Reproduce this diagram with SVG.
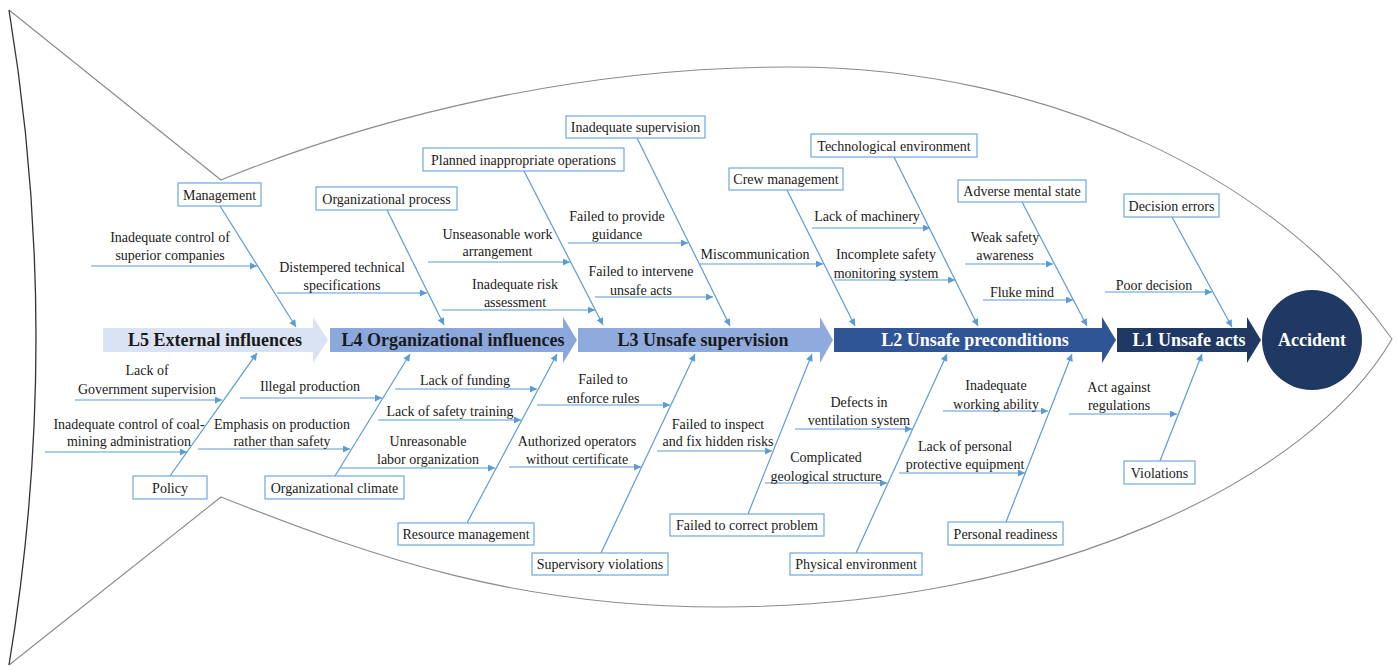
<svg xmlns="http://www.w3.org/2000/svg" width="1397" height="666" viewBox="0 0 1397 666" font-family="'Liberation Serif', 'Times New Roman', serif">
  <defs>
    <style>
      .outline { fill: none; stroke: #8a8a8a; stroke-width: 1.1; }
      .tail { fill: none; stroke: #333; stroke-width: 1.3; }
      .rib { stroke: #5b9bd5; stroke-width: 1.2; fill: none; marker-end: url(#ah); }
      .box { fill: #fff; stroke: #6fa8dc; stroke-width: 1.2; }
      text { font-family: "Liberation Serif", "Times New Roman", serif; fill: #1a1a1a; }
      .lbl { font-size: 14px; text-anchor: middle; }
      .lvl { font-size: 18px; font-weight: bold; text-anchor: middle; }
      .lvl.w { fill: #fff; }
    </style>
    <marker id="ah" viewBox="0 0 10 10" refX="10" refY="5" markerWidth="9" markerHeight="7" markerUnits="userSpaceOnUse" orient="auto">
      <path d="M0,0 L10,5 L0,10 z" fill="#5b9bd5"/>
    </marker>
  </defs>
  <rect width="1397" height="666" fill="#fff"/>

  <!-- fish body -->
  <g id="fish">
    <path class="outline" d="M9,10 L221,180 C380,115 580,67 790,67 C1050,67 1280,180 1392,339 C1310,480 1050,607 720,607 C520,607 380,560 221,497 L9,665"/>
    <path class="tail" d="M9,10 Q63,338 9,665"/>
  </g>

  <!-- spine: the five levels and the head -->
  <g id="spine">
    <g id="L5">
      <polygon points="103,328 313,328 313,317 328,340 313,363 313,352 103,352" fill="#dae3f3"/>
      <text class="lvl" x="215" y="346">L5 External influences</text>
    </g>
    <g id="L4">
      <polygon points="330,328 563,328 563,317 577,340 563,363 563,352 330,352" fill="#8aa8dc"/>
      <text class="lvl" x="453" y="346">L4 Organizational influences</text>
    </g>
    <g id="L3">
      <polygon points="578,328 820,328 820,317 833,340 820,363 820,352 578,352" fill="#8faadc"/>
      <text class="lvl" x="703" y="346">L3 Unsafe supervision</text>
    </g>
    <g id="L2">
      <polygon points="834,328 1102,328 1102,317 1116,340 1102,363 1102,352 834,352" fill="#2f5597"/>
      <text class="lvl w" x="975" y="346">L2 Unsafe preconditions</text>
    </g>
    <g id="L1">
      <polygon points="1117,328 1247,328 1247,317 1261,340 1247,363 1247,352 1117,352" fill="#203864"/>
      <text class="lvl w" x="1189" y="346">L1 Unsafe acts</text>
    </g>
    <g id="accident">
      <circle cx="1312" cy="340" r="50" fill="#1f3864"/>
      <text class="lvl w" x="1312" y="346">Accident</text>
    </g>
  </g>

  <!-- connectors: main bones and ribs -->
  <g id="connectors">
    <!-- upper bones -->
    <line class="rib" x1="220" y1="206" x2="296" y2="327"/>
    <line class="rib" x1="387" y1="210" x2="444" y2="325"/>
    <line class="rib" x1="524" y1="171" x2="603" y2="325"/>
    <line class="rib" x1="637" y1="138" x2="730" y2="326"/>
    <line class="rib" x1="787" y1="190" x2="855" y2="326"/>
    <line class="rib" x1="894" y1="157" x2="978" y2="326"/>
    <line class="rib" x1="1022" y1="202" x2="1087" y2="326"/>
    <line class="rib" x1="1172" y1="217" x2="1232" y2="327"/>
    <!-- lower bones -->
    <line class="rib" x1="170" y1="476" x2="257" y2="353"/>
    <line class="rib" x1="335" y1="476" x2="410" y2="354"/>
    <line class="rib" x1="467" y1="523" x2="557" y2="354"/>
    <line class="rib" x1="601" y1="553" x2="695" y2="354"/>
    <line class="rib" x1="748" y1="514" x2="812" y2="354"/>
    <line class="rib" x1="856" y1="553" x2="947" y2="354"/>
    <line class="rib" x1="1006" y1="522" x2="1072" y2="354"/>
    <line class="rib" x1="1160" y1="461" x2="1202" y2="354"/>
    <!-- upper ribs -->
    <line class="rib" x1="91" y1="266" x2="257" y2="266"/>
    <line class="rib" x1="277" y1="293" x2="427" y2="293"/>
    <line class="rib" x1="428" y1="262" x2="570" y2="262"/>
    <line class="rib" x1="442" y1="310" x2="595" y2="310"/>
    <line class="rib" x1="568" y1="243" x2="688" y2="243"/>
    <line class="rib" x1="595" y1="297" x2="713" y2="297"/>
    <line class="rib" x1="700" y1="264" x2="823" y2="264"/>
    <line class="rib" x1="812" y1="228" x2="930" y2="228"/>
    <line class="rib" x1="835" y1="280" x2="955" y2="280"/>
    <line class="rib" x1="965" y1="264" x2="1053" y2="264"/>
    <line class="rib" x1="983" y1="300" x2="1073" y2="300"/>
    <line class="rib" x1="1105" y1="292" x2="1212" y2="292"/>
    <!-- lower ribs -->
    <line class="rib" x1="75" y1="400" x2="222" y2="400"/>
    <line class="rib" x1="45" y1="452" x2="187" y2="452"/>
    <line class="rib" x1="240" y1="398" x2="382" y2="398"/>
    <line class="rib" x1="198" y1="449" x2="350" y2="449"/>
    <line class="rib" x1="395" y1="389" x2="537" y2="389"/>
    <line class="rib" x1="378" y1="420" x2="521" y2="420"/>
    <line class="rib" x1="340" y1="468" x2="495" y2="468"/>
    <line class="rib" x1="537" y1="405" x2="670" y2="405"/>
    <line class="rib" x1="509" y1="467" x2="641" y2="467"/>
    <line class="rib" x1="657" y1="451" x2="772" y2="451"/>
    <line class="rib" x1="795" y1="429" x2="912" y2="429"/>
    <line class="rib" x1="765" y1="483" x2="887" y2="483"/>
    <line class="rib" x1="943" y1="411" x2="1048" y2="411"/>
    <line class="rib" x1="899" y1="473" x2="1025" y2="473"/>
    <line class="rib" x1="1069" y1="414" x2="1177" y2="414"/>
  </g>

  <!-- category boxes -->
  <g id="management"><rect class="box" x="178" y="183" width="83" height="23"/><text class="lbl" x="219.5" y="199.5">Management</text></g>
  <g id="organizational-process"><rect class="box" x="316" y="187" width="141" height="23"/><text class="lbl" x="386.5" y="203.5">Organizational process</text></g>
  <g id="planned-operations"><rect class="box" x="423" y="148" width="201" height="23"/><text class="lbl" x="523.5" y="164.5">Planned inappropriate operations</text></g>
  <g id="inadequate-supervision"><rect class="box" x="566" y="116" width="139" height="22"/><text class="lbl" x="635.5" y="132">Inadequate supervision</text></g>
  <g id="crew-management"><rect class="box" x="729" y="168" width="114" height="22"/><text class="lbl" x="786" y="184">Crew management</text></g>
  <g id="technological-environment"><rect class="box" x="811" y="134" width="166" height="23"/><text class="lbl" x="894" y="150.5">Technological environment</text></g>
  <g id="adverse-mental-state"><rect class="box" x="958" y="180" width="128" height="22"/><text class="lbl" x="1022" y="196">Adverse mental state</text></g>
  <g id="decision-errors"><rect class="box" x="1124" y="194" width="95" height="23"/><text class="lbl" x="1171.5" y="210.5">Decision errors</text></g>

  <g id="policy"><rect class="box" x="133" y="476" width="74" height="23"/><text class="lbl" x="170" y="492.5">Policy</text></g>
  <g id="organizational-climate"><rect class="box" x="265" y="476" width="139" height="23"/><text class="lbl" x="334.5" y="492.5">Organizational climate</text></g>
  <g id="resource-management"><rect class="box" x="398" y="523" width="136" height="22"/><text class="lbl" x="466" y="539">Resource management</text></g>
  <g id="supervisory-violations"><rect class="box" x="532" y="553" width="136" height="22"/><text class="lbl" x="600" y="569">Supervisory violations</text></g>
  <g id="failed-to-correct"><rect class="box" x="670" y="514" width="154" height="22"/><text class="lbl" x="747" y="530">Failed to correct problem</text></g>
  <g id="physical-environment"><rect class="box" x="790" y="553" width="132" height="22"/><text class="lbl" x="856" y="569">Physical environment</text></g>
  <g id="personal-readiness"><rect class="box" x="948" y="522" width="115" height="23"/><text class="lbl" x="1005.5" y="538.5">Personal readiness</text></g>
  <g id="violations"><rect class="box" x="1124" y="461" width="71" height="23"/><text class="lbl" x="1159.5" y="477.5">Violations</text></g>

  <!-- cause labels -->
  <g id="cause-labels">
    <text class="lbl" x="170" y="242">Inadequate control of</text>
    <text class="lbl" x="170" y="260">superior companies</text>
    <text class="lbl" x="342" y="272">Distempered technical</text>
    <text class="lbl" x="342" y="290">specifications</text>
    <text class="lbl" x="497.5" y="239">Unseasonable work</text>
    <text class="lbl" x="497.5" y="256">arrangement</text>
    <text class="lbl" x="515" y="289">Inadequate risk</text>
    <text class="lbl" x="515" y="307">assessment</text>
    <text class="lbl" x="617" y="221">Failed to provide</text>
    <text class="lbl" x="617" y="239">guidance</text>
    <text class="lbl" x="641" y="276">Failed to intervene</text>
    <text class="lbl" x="641" y="295">unsafe acts</text>
    <text class="lbl" x="755" y="259">Miscommunication</text>
    <text class="lbl" x="867" y="221">Lack of machinery</text>
    <text class="lbl" x="886" y="259">Incomplete safety</text>
    <text class="lbl" x="886" y="278">monitoring system</text>
    <text class="lbl" x="1005" y="242">Weak safety</text>
    <text class="lbl" x="1005" y="260">awareness</text>
    <text class="lbl" x="1022" y="297">Fluke mind</text>
    <text class="lbl" x="1154" y="290">Poor decision</text>

    <text class="lbl" x="147" y="375">Lack of</text>
    <text class="lbl" x="147" y="394">Government supervision</text>
    <text class="lbl" x="129" y="429">Inadequate control of coal-</text>
    <text class="lbl" x="129" y="446">mining administration</text>
    <text class="lbl" x="310" y="391">Illegal production</text>
    <text class="lbl" x="282" y="429">Emphasis on production</text>
    <text class="lbl" x="282" y="446">rather than safety</text>
    <text class="lbl" x="465" y="385">Lack of funding</text>
    <text class="lbl" x="450" y="416">Lack of safety training</text>
    <text class="lbl" x="428" y="446">Unreasonable</text>
    <text class="lbl" x="428" y="464">labor organization</text>
    <text class="lbl" x="603" y="384">Failed to</text>
    <text class="lbl" x="603" y="403">enforce rules</text>
    <text class="lbl" x="577" y="446">Authorized operators</text>
    <text class="lbl" x="577" y="464">without certificate</text>
    <text class="lbl" x="718" y="429">Failed to inspect</text>
    <text class="lbl" x="718" y="446">and fix hidden risks</text>
    <text class="lbl" x="859" y="407">Defects in</text>
    <text class="lbl" x="859" y="425">ventilation system</text>
    <text class="lbl" x="826" y="462">Complicated</text>
    <text class="lbl" x="826" y="481">geological structure</text>
    <text class="lbl" x="996" y="390">Inadequate</text>
    <text class="lbl" x="996" y="409">working ability</text>
    <text class="lbl" x="965" y="451">Lack of personal</text>
    <text class="lbl" x="965" y="469">protective equipment</text>
    <text class="lbl" x="1119" y="392">Act against</text>
    <text class="lbl" x="1119" y="410">regulations</text>
  </g>
</svg>
